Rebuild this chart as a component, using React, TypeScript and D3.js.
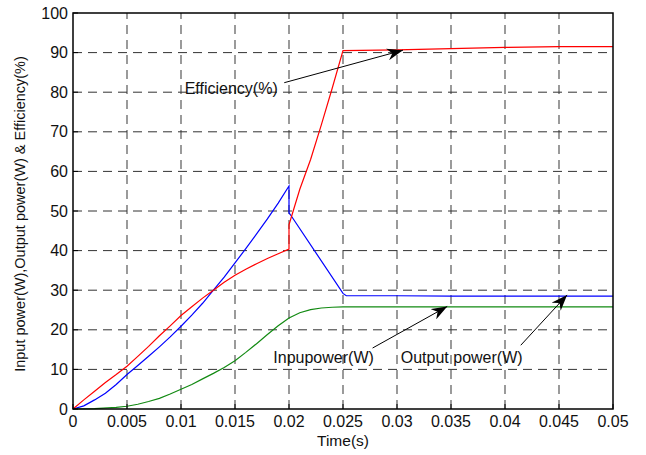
import React from 'react';
import * as d3 from 'd3';

// sample times (s)
const timeEff = [0, 0.001, 0.002, 0.003, 0.004, 0.005, 0.006, 0.007, 0.008, 0.009, 0.01, 0.011, 0.012, 0.013, 0.014, 0.015, 0.016, 0.017, 0.018, 0.019, 0.02, 0.02, 0.0205, 0.021, 0.022, 0.023, 0.024, 0.025, 0.03, 0.035, 0.04, 0.045, 0.05];
const efficiency = [0, 2.3, 4.5, 6.7, 8.7, 10.8, 13.3, 15.8, 18.5, 21, 23.6, 25.8, 28, 30, 32, 33.8, 35.3, 36.7, 38, 39.2, 40.4, 46.5, 51, 55.5, 63, 71.8, 81, 90.5, 90.7, 91, 91.3, 91.5, 91.5];

const timeIn = [0, 0.001, 0.002, 0.003, 0.004, 0.005, 0.006, 0.007, 0.008, 0.009, 0.01, 0.011, 0.012, 0.013, 0.014, 0.015, 0.016, 0.017, 0.018, 0.019, 0.02, 0.02, 0.0202, 0.025, 0.0253, 0.03, 0.035, 0.04, 0.045, 0.05];
const inputPower = [0, 0.8, 2.3, 4, 6.2, 8.7, 11, 13.3, 15.7, 18.2, 20.9, 23.7, 26.7, 30, 33.3, 36.9, 40.5, 44.2, 48, 52, 56.3, 49.5, 48.8, 29.2, 28.6, 28.6, 28.5, 28.5, 28.5, 28.5];

const timeOut = [0, 0.002, 0.004, 0.005, 0.006, 0.007, 0.008, 0.009, 0.01, 0.011, 0.012, 0.013, 0.014, 0.015, 0.016, 0.017, 0.018, 0.019, 0.02, 0.021, 0.022, 0.023, 0.024, 0.025, 0.03, 0.04, 0.05];
const outputPower = [0, 0.1, 0.4, 0.7, 1.2, 1.9, 2.7, 3.8, 5, 6.2, 7.6, 9, 10.5, 12.2, 14.3, 16.5, 18.8, 21, 23, 24.3, 25.1, 25.5, 25.7, 25.8, 25.8, 25.8, 25.8];

const xTicks = [0, 0.005, 0.01, 0.015, 0.02, 0.025, 0.03, 0.035, 0.04, 0.045, 0.05];
const xTickLabels = ['0', '0.005', '0.01', '0.015', '0.02', '0.025', '0.03', '0.035', '0.04', '0.045', '0.05'];
const yTicks = [0, 10, 20, 30, 40, 50, 60, 70, 80, 90, 100];

// annotations: label, text anchor point, arrow tail and tip (data units)
const notes = [
  { label: 'Efficiency(%)', tx: 0.01034, ty: 80.5, ax: 0.01956, ay: 82.4, bx: 0.03055, by: 90.6 },
  { label: 'Inpupower(W)', tx: 0.01855, ty: 12.6, ax: 0.02774, ay: 15.4, bx: 0.03465, by: 25.9 },
  { label: 'Output power(W)', tx: 0.03035, ty: 12.6, ax: 0.04146, ay: 16.1, bx: 0.04575, by: 28.8 },
];

const W = 646, H = 455;
const margin = { top: 13, right: 33, bottom: 46, left: 73 };

export default function App() {
  const x = d3.scaleLinear().domain([0, 0.05]).range([margin.left, W - margin.right]);
  const y = d3.scaleLinear().domain([0, 100]).range([H - margin.bottom, margin.top]);
  const line = d3.line<[number, number]>().x(d => x(d[0])).y(d => y(d[1]));

  const effPts = timeEff.map((t, i) => [t, efficiency[i]] as [number, number]);
  const inPts = timeIn.map((t, i) => [t, inputPower[i]] as [number, number]);
  const outPts = timeOut.map((t, i) => [t, outputPower[i]] as [number, number]);

  const font = 'Liberation Sans, Arial, sans-serif';
  const x0 = x(0), x1 = x(0.05), y0 = y(0), y1 = y(100);

  return (
    <svg width={W} height={H} style={{ position: 'absolute', left: 0, top: 0, background: '#fff' }}>
      <defs>
        <marker id="arr" viewBox="0 0 16 12" refX="16" refY="6" markerWidth="16" markerHeight="12" markerUnits="userSpaceOnUse" orient="auto">
          <path d="M0,0 L16,6 L0,12 L5,6 Z" fill="#000" />
        </marker>
      </defs>
      {/* grid */}
      {xTicks.slice(1, -1).map(t => (
        <line key={'gx' + t} x1={x(t)} x2={x(t)} y1={y0} y2={y1} stroke="#666" strokeWidth={1.3} strokeDasharray="9,6" />
      ))}
      {yTicks.slice(1, -1).map(t => (
        <line key={'gy' + t} x1={x0} x2={x1} y1={y(t)} y2={y(t)} stroke="#333" strokeWidth={1} strokeDasharray="9,6" />
      ))}
      {/* series */}
      <path d={line(outPts) || ''} fill="none" stroke="#128a12" strokeWidth={1.2} />
      <path d={line(inPts) || ''} fill="none" stroke="#0000ff" strokeWidth={1.2} />
      <path d={line(effPts) || ''} fill="none" stroke="#ff0000" strokeWidth={1.2} />
      {/* box */}
      <rect x={x0} y={y1} width={x1 - x0} height={y0 - y1} fill="none" stroke="#000" strokeWidth={1.5} />
      {/* ticks */}
      {xTicks.map((t, i) => (
        <g key={'tx' + t}>
          <line x1={x(t)} x2={x(t)} y1={y0} y2={y0 - 5} stroke="#000" />
          <text x={x(t)} y={y0 + 18} textAnchor="middle" fontFamily={font} fontSize={16} fill="#111">{xTickLabels[i]}</text>
        </g>
      ))}
      {yTicks.map(t => (
        <g key={'ty' + t}>
          <line x1={x0} x2={x0 + 5} y1={y(t)} y2={y(t)} stroke="#000" />
          <text x={x0 - 5} y={y(t) + 5.5} textAnchor="end" fontFamily={font} fontSize={16} fill="#111">{t}</text>
        </g>
      ))}
      {/* axis labels */}
      <text x={(x0 + x1) / 2} y={446} textAnchor="middle" fontFamily={font} fontSize={15.5} fill="#111">Time(s)</text>
      <text transform={`translate(25,${(y0 + y1) / 2 + 3}) rotate(-90)`} textAnchor="middle" fontFamily={font} fontSize={14.5} fill="#111">
        Input power(W),Output power(W) &amp; Efficiency(%)
      </text>
      {/* annotations */}
      {notes.map(n => (
        <g key={n.label}>
          <text x={x(n.tx)} y={y(n.ty)} fontFamily={font} fontSize={16} fill="#111" dominantBaseline="middle">{n.label}</text>
          <line x1={x(n.ax)} y1={y(n.ay)} x2={x(n.bx)} y2={y(n.by)} stroke="#000" strokeWidth={1} markerEnd="url(#arr)" />
        </g>
      ))}
    </svg>
  );
}
